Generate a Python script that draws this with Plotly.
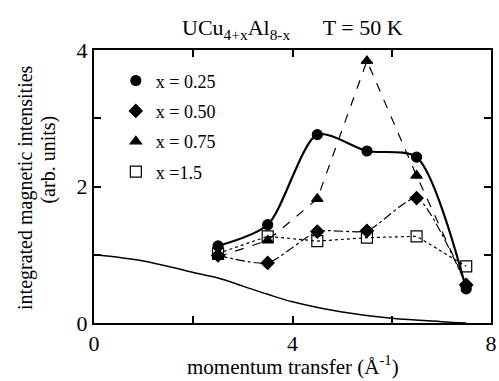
import plotly.graph_objects as go

q = [2.5, 3.5, 4.5, 5.5, 6.5, 7.5]
i_025 = [1.13, 1.44, 2.76, 2.52, 2.43, 0.50]
i_050 = [0.99, 0.88, 1.34, 1.35, 1.83, 0.56]
i_075 = [0.97, 1.21, 1.82, 3.84, 2.16, 0.57]
i_150 = [1.02, 1.27, 1.20, 1.25, 1.27, 0.83]

ff_q = [0, 1, 2, 2.5, 3, 3.5, 4, 5, 6, 7, 7.5]
ff_i = [1.0, 0.91, 0.74, 0.66, 0.54, 0.42, 0.31, 0.16, 0.07, 0.02, 0.0]

labels = ["x = 0.25", "x = 0.50", "x = 0.75", "x =1.5"]
FONT = "Liberation Serif"

fig = go.Figure()
fig.add_trace(go.Scatter(x=ff_q, y=ff_i, mode="lines", line=dict(color="black", width=1.5, shape="spline"),
                         showlegend=False))
series = [
    (i_025, "circle", 10, dict(color="black", width=2.2, dash="solid", shape="spline", smoothing=0.75)),
    (i_050, "diamond", 10, dict(color="black", width=1.2, dash="dashdot", shape="spline", smoothing=0.6)),
    (i_075, "triangle-up", 10, dict(color="black", width=1.2, dash="dash", shape="linear")),
    (i_150, "square-open", 11, dict(color="black", width=1.2, dash="dot", shape="linear")),
]
for ys, sym, sz, ln in series:
    fig.add_trace(go.Scatter(x=q, y=ys, mode="lines", line=ln, showlegend=False))
for (ys, sym, sz, ln), lab in zip(series, labels):
    mk = dict(symbol=sym, size=sz, color="black", line=dict(color="black", width=1.2))
    fig.add_trace(go.Scatter(x=q, y=ys, mode="markers", marker=mk, showlegend=False))
    fig.add_trace(go.Scatter(x=[None], y=[None], mode="markers", name=lab, marker=mk,
                             legendgroup=lab, showlegend=True))

axis_common = dict(showgrid=False, zeroline=False, showline=True, linecolor="black", linewidth=2,
                   mirror="ticks", ticks="inside", ticklen=7, tickwidth=1.5, tickcolor="black",
                   ticklabeloverflow="allow",
                   tickfont=dict(family=FONT, size=22, color="black"))
fig.update_xaxes(range=[0, 8], tickvals=[0, 2, 4, 6, 8], ticktext=["0", "", "4", "", "8"], **axis_common)
fig.update_yaxes(range=[0, 4], tickvals=[0, 1, 2, 3, 4], ticktext=["0", "", "2", "", "4"], **axis_common)

fig.add_annotation(text="momentum transfer (Å<sup>-1</sup>)",
                   xref="paper", yref="paper", x=0.5, y=-0.155, xanchor="center", yanchor="middle",
                   showarrow=False, font=dict(family=FONT, size=21, color="black"))
fig.add_annotation(text="integrated magnetic intensities", textangle=-90,
                   xref="paper", yref="paper", x=-0.174, y=0.498, xanchor="center", yanchor="middle",
                   showarrow=False, font=dict(family=FONT, size=20, color="black"))
fig.add_annotation(text="(arb. units)", textangle=-90,
                   xref="paper", yref="paper", x=-0.117, y=0.597, xanchor="center", yanchor="middle",
                   showarrow=False, font=dict(family=FONT, size=20, color="black"))
fig.add_annotation(text="UCu<sub>4+x</sub>Al<sub>8-x</sub>      T = 50 K",
                   xref="paper", yref="paper", x=0.5, y=1.0, yshift=21, xanchor="center", yanchor="middle",
                   showarrow=False, font=dict(family=FONT, size=22, color="black"))

fig.update_layout(
    width=499, height=381,
    margin=dict(l=94, r=2, t=50, b=58),
    plot_bgcolor="white", paper_bgcolor="white",
    font=dict(family=FONT, color="black"),
    legend=dict(x=0.055, y=0.955, xanchor="left", yanchor="top", bgcolor="rgba(0,0,0,0)",
                font=dict(family=FONT, size=18, color="black"), tracegroupgap=4),
)
fig.write_html("out.html")
